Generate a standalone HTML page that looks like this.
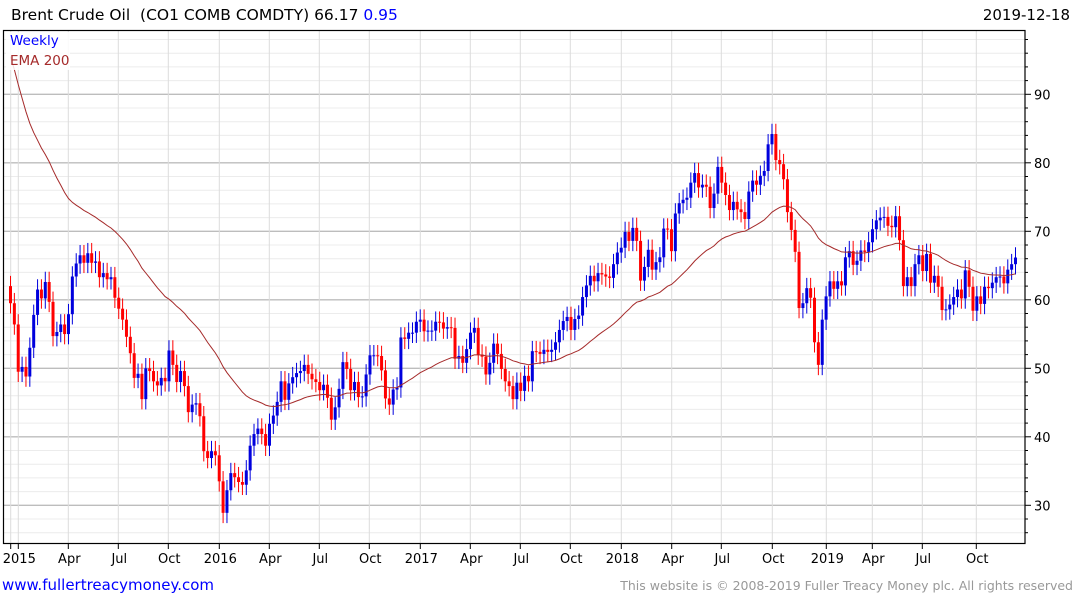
<!DOCTYPE html>
<html><head><meta charset="utf-8"><style>
body{margin:0;background:#fff;width:1075px;height:600px;overflow:hidden;font-family:"Liberation Sans","DejaVu Sans",sans-serif}
svg text{font-family:"DejaVu Sans","Liberation Sans",sans-serif}
</style></head><body>
<svg id="chart" width="1075" height="600" xmlns="http://www.w3.org/2000/svg">
<text x="11" y="20" font-size="15.5" fill="#000">Brent Crude Oil&#160; (CO1 COMB COMDTY) 66.17 <tspan fill="#0000ff">0.95</tspan></text>
<text x="1070" y="20" font-size="15" text-anchor="end" fill="#000">2019-12-18</text>
<g id="grid"></g>
<g id="candles"></g>
<path id="ema" fill="none" stroke="#a52a2a" stroke-width="1"/>
<rect x="3.5" y="30.5" width="1021.5" height="513" fill="none" stroke="#000" stroke-width="1.2"/>
<rect x="6" y="32" width="64" height="38" fill="#fff" opacity="0.85"/>
<text x="10" y="45" font-size="13.5" fill="#0000ff">Weekly</text>
<text x="10" y="65" font-size="13.5" fill="#a52a2a">EMA 200</text>
<g id="yaxis"></g>
<g id="xaxis"></g>
<text x="2" y="590" font-size="15" fill="#0000ff">www.fullertreacymoney.com</text>
<text x="1073" y="590" font-size="12.5" fill="#999" text-anchor="end">This website is © 2008-2019 Fuller Treacy Money plc. All rights reserved</text>
</svg>
<script>
const closes=[59.5,56.4,49.5,50.2,48.8,53.0,57.8,61.5,60.2,62.6,59.7,54.7,55.3,56.4,55.0,57.9,63.4,65.3,66.5,65.4,66.8,65.4,65.6,63.3,63.9,63.0,63.3,60.3,58.7,57.1,54.6,52.2,48.6,49.2,45.5,50.0,49.6,48.1,47.5,48.6,48.1,52.6,50.5,48.0,49.6,47.4,43.6,44.7,44.9,43.0,37.9,36.9,37.9,37.3,
33.5,28.9,32.2,34.7,34.1,33.4,33.0,35.1,38.7,40.4,41.2,40.4,38.7,41.9,43.1,45.1,48.1,45.4,47.8,48.7,49.3,49.6,50.5,49.2,48.4,48.0,46.8,47.6,45.7,42.5,44.3,47.0,50.9,49.9,46.8,48.0,45.8,45.9,49.1,51.9,51.9,51.8,49.7,45.6,44.7,46.9,47.2,54.5,54.3,55.2,55.2,56.8,
57.1,55.4,55.5,55.5,56.8,56.7,55.8,56.0,55.9,51.4,51.8,50.8,52.8,55.2,55.9,52.0,51.7,49.1,50.8,53.6,52.1,49.9,48.1,47.4,45.5,47.9,46.7,48.9,48.1,52.5,52.4,52.1,52.7,52.4,52.7,53.8,55.6,56.9,57.5,55.6,57.2,57.7,60.4,62.1,63.5,62.7,63.9,63.7,63.4,63.2,65.2,66.9,
67.6,69.9,68.6,70.5,68.6,62.8,64.8,67.3,64.4,65.5,66.2,70.4,70.3,67.1,72.6,74.1,74.6,74.9,77.1,78.5,76.4,76.8,76.5,73.4,75.5,79.4,77.1,75.3,73.1,74.3,73.2,72.8,71.8,75.8,77.4,76.8,78.1,78.8,82.7,84.2,80.4,79.8,77.6,72.8,70.2,67.0,58.8,59.5,61.7,60.3,53.8,50.5,
57.1,60.5,62.7,61.6,62.7,62.1,66.2,67.1,65.1,65.7,67.2,67.0,68.4,70.3,71.6,72.0,72.1,70.8,70.6,72.2,68.7,62.0,63.3,62.0,65.2,66.5,64.2,66.7,62.5,63.5,61.9,58.5,58.6,59.3,60.4,61.5,60.2,64.3,61.9,58.4,60.5,59.4,61.9,61.7,62.5,63.3,63.4,62.4,64.4,65.2,66.17];
const firstOpen=62.0;
const wick=1.5;
const emaSeed=95.5;
const emaPeriodWeeks=40;
const yTicks=[90,80,70,60,50,40,30];
const xLabels=["2015","Apr","Jul","Oct","2016","Apr","Jul","Oct","2017","Apr","Jul","Oct","2018","Apr","Jul","Oct","2019","Apr","Jul","Oct"];
const xLabelPos=[18.3,68.3,118.3,168.3,219.3,269.3,319.3,369.3,420.3,470.3,520.3,570.3,621.3,671.7,721.3,772.3,826.3,872.3,922.3,976.3];
const NS="http://www.w3.org/2000/svg";
const yS=v=>94.3+(90-v)*6.85;
const xS=i=>10.5+i*(1005/(closes.length-1));
function mk(tag,attrs,parent){const e=document.createElementNS(NS,tag);for(const k in attrs)e.setAttribute(k,attrs[k]);parent.appendChild(e);return e;}
const grid=document.getElementById('grid'),yax=document.getElementById('yaxis'),xax=document.getElementById('xaxis'),cg=document.getElementById('candles');
for(let v=26;v<=98;v+=2){const y=yS(v);if(y<31||y>543)continue;const major=v%10===0;
 const l=mk('line',{x1:4,x2:1025,y1:y,y2:y,stroke:major?'#bdbdbd':'#ececec','stroke-width':major?1.3:1},grid);
 
 
 const t=mk('line',{x1:1025,x2:major?1031:1028,y1:y,y2:y,stroke:'#000'},yax);
 
 }
yTicks.forEach(v=>{const t=mk('text',{x:1034,y:yS(v)+5,'font-size':13,fill:'#000'},yax);t.textContent=v;
 
 });
[10.7].concat(xLabelPos).forEach(x=>{const l=mk('line',{x1:x,x2:x,y1:31,y2:543,stroke:'#dcdcdc'},grid);
 
 
 const t=mk('line',{x1:x,x2:x,y1:543,y2:549,stroke:'#000'},xax);
 
 });
xLabels.forEach((s,i)=>{const t=mk('text',{x:xLabelPos[i]+1,y:563,'font-size':13,'text-anchor':'middle',fill:'#000'},xax);t.textContent=s;
 
 });
let prev=firstOpen;let ema=emaSeed;const a=2/(emaPeriodWeeks+1);let d='';
closes.forEach((c,i)=>{const o=prev;const up=c>=o;const col=up?'#0000dd':'#ff0000';const x=xS(i);
 const hi=Math.max(o,c)+wick,lo=Math.min(o,c)-wick;
 const w=mk('line',{x1:x,x2:x,y1:yS(hi),y2:yS(lo),stroke:col,'stroke-width':1},cg);
 
 
 const yt=yS(Math.max(o,c)),yb=yS(Math.min(o,c));
 const b=mk('rect',{x:x-1.5,y:yt,width:3,height:Math.max(1,yb-yt),fill:col},cg);
 
 
 ema=i===0?ema:ema+a*(c-ema);d+=(i?'L':'M')+x.toFixed(1)+','+yS(ema).toFixed(1);
 prev=c;});
document.getElementById('ema').setAttribute('d',d);
</script>
</body></html>
